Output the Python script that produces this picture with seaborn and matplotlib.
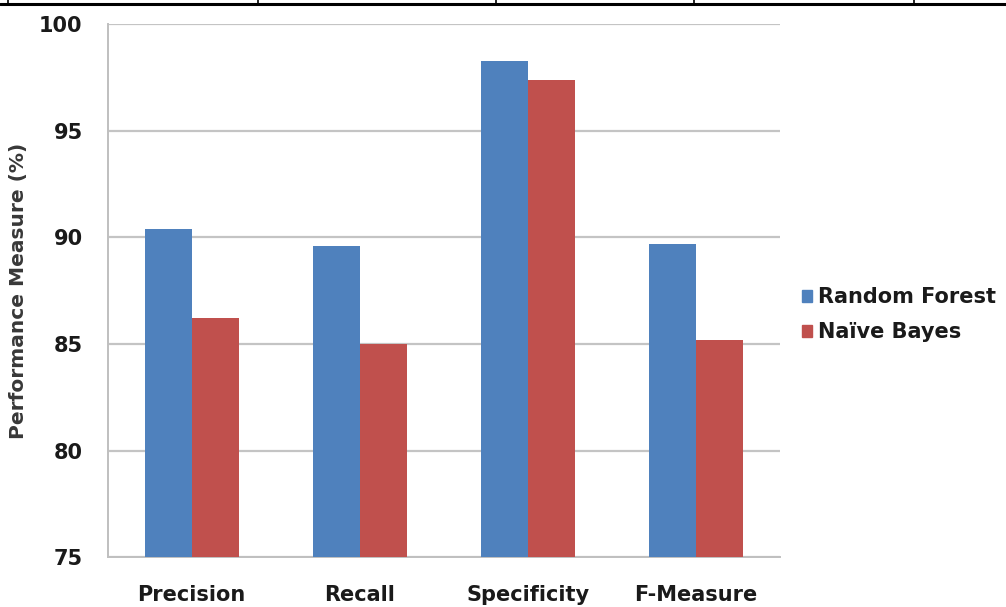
import matplotlib
matplotlib.use("Agg")
import matplotlib.pyplot as plt
from matplotlib.lines import Line2D
import seaborn as sns
import pandas as pd
import numpy as np

# Performance measures of the two classifiers (%)
metrics = ["Precision", "Recall", "Specificity", "F-Measure"]
random_forest = [90.4, 89.6, 98.3, 89.7]
naive_bayes = [86.2, 85.0, 97.4, 85.2]
models = ["Random Forest", "Naïve Bayes"]
colors = ["#4F81BD", "#C0504D"]
y_ticks = [75, 80, 85, 90, 95, 100]

df = pd.DataFrame({
    "Metric": metrics * 2,
    "Model": [models[0]] * len(metrics) + [models[1]] * len(metrics),
    "Value": random_forest + naive_bayes,
})

sns.set_theme(style="white")
plt.rcParams["font.family"] = ["DejaVu Sans"]
plt.rcParams["font.weight"] = "bold"

fig = plt.figure(figsize=(10.06, 6.07), dpi=100)
ax = fig.add_axes([0.107, 0.082, 0.668, 0.878])

sns.barplot(data=df, x="Metric", y="Value", hue="Model", order=metrics,
            hue_order=models, palette=colors, width=0.56, saturation=1,
            edgecolor="none", linewidth=0, ax=ax, zorder=3)

ax.set_ylim(75, 100)
ax.set_xlim(-0.5, len(metrics) - 0.5)
ax.set_yticks(y_ticks)
ax.set_yticklabels([str(t) for t in y_ticks], fontsize=15,
                   fontweight="bold", color="#1a1a1a")
ax.set_xticks(range(len(metrics)))
ax.set_xticklabels(metrics, fontsize=15, fontweight="bold", color="#1a1a1a")
ax.tick_params(axis="x", which="major", length=0, pad=20)
ax.set_xticks(np.arange(-0.5, len(metrics), 1.0), minor=True)
ax.tick_params(axis="x", which="minor", length=6, width=1.2,
               color="#BFBFBF", direction="out")
ax.tick_params(axis="y", which="major", length=6, width=1.2,
               color="#BFBFBF", direction="out", pad=12)

ax.grid(axis="y", color="#C4C4C4", linewidth=1.6, zorder=0)
ax.grid(axis="x", visible=False)
ax.set_axisbelow(True)

for side in ["top", "right"]:
    ax.spines[side].set_visible(False)
for side in ["left", "bottom"]:
    ax.spines[side].set_color("#BFBFBF")
    ax.spines[side].set_linewidth(1.4)

ax.set_xlabel("")
ax.set_ylabel("Performance Measure (%)", fontsize=14.5, fontweight="bold",
              color="#383838")
ax.yaxis.set_label_coords(-0.119, 0.5)

handles = [plt.Rectangle((0, 0), 1, 1, color=c) for c in colors]
ax.legend(handles, models, loc="center left", bbox_to_anchor=(1.005, 0.455),
          frameon=False, prop={"size": 15, "weight": "bold"},
          handlelength=0.5, handleheight=0.5, handletextpad=0.3,
          labelspacing=0.7, labelcolor="#1a1a1a")

# table border along the top edge
fig.add_artist(Line2D([0, 1], [1 - 3.5 / 607] * 2, transform=fig.transFigure,
                      color="black", linewidth=2.2))
for xp in [8, 258, 496, 694, 914]:
    fig.add_artist(Line2D([xp / 1006] * 2, [1, 1 - 3.5 / 607],
                          transform=fig.transFigure, color="black",
                          linewidth=1.2))

fig.savefig("out.png", dpi=100, facecolor="white")
